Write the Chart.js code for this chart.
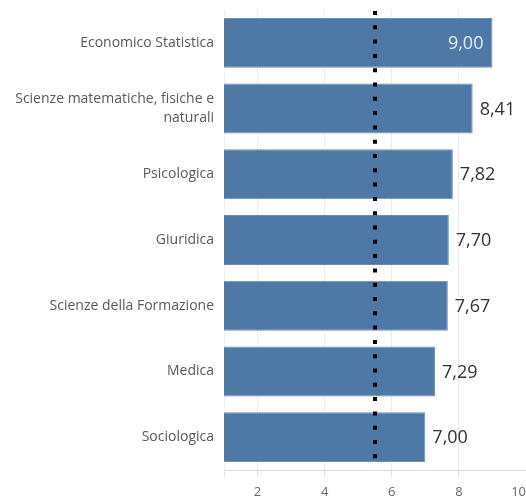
<!DOCTYPE html>
<html>
<head>
<meta charset="utf-8">
<script src="https://cdn.jsdelivr.net/npm/chart.js@4.4.1/dist/chart.umd.min.js"></script>
<style>
  html, body { margin: 0; padding: 0; background: #fff; }
  #wrap { width: 526px; height: 499px; }
</style>
</head>
<body>
<div id="wrap"><canvas id="chart"></canvas></div>
<script>
const categories = [
  "Economico Statistica",
  ["Scienze matematiche, fisiche e", "naturali"],
  "Psicologica",
  "Giuridica",
  "Scienze della Formazione",
  "Medica",
  "Sociologica"
];
const scores = [9.00, 8.41, 7.82, 7.70, 7.67, 7.29, 7.00];
const referenceValue = 5.5;
const xTicks = [1, 2, 4, 6, 8, 10];
const xTickLabels = ["", "2", "4", "6", "8", "10"];

const BAR_COLOR = "#4e79a7";
const FONT = "'Open Sans', sans-serif";

function formatValue(v) {
  return v.toFixed(2).replace(".", ",");
}

// value labels: outside the bar, or inside in white when they would not fit
const valueLabels = {
  id: "valueLabels",
  afterDatasetsDraw(chart) {
    const { ctx, chartArea } = chart;
    const meta = chart.getDatasetMeta(0);
    ctx.save();
    ctx.font = "18px " + FONT;
    ctx.textBaseline = "middle";
    meta.data.forEach((bar, i) => {
      const text = formatValue(scores[i]);
      const w = ctx.measureText(text).width;
      if (bar.x + 8 + w > chartArea.right) {
        ctx.fillStyle = "rgba(255,255,255,0.85)";
        ctx.textAlign = "right";
        ctx.fillText(text, bar.x - 9, bar.y + 1);
      } else {
        ctx.fillStyle = "#333";
        ctx.textAlign = "left";
        ctx.fillText(text, bar.x + 7, bar.y + 1);
      }
    });
    ctx.restore();
  }
};

// dotted reference line
const referenceLine = {
  id: "referenceLine",
  afterDatasetsDraw(chart) {
    const { ctx, chartArea, scales } = chart;
    const x = Math.round(scales.x.getPixelForValue(referenceValue));
    ctx.save();
    ctx.strokeStyle = "#000";
    ctx.lineWidth = 4;
    ctx.setLineDash([4, 10.3]);
    ctx.beginPath();
    ctx.moveTo(x, chartArea.top + 1);
    ctx.lineTo(x, chartArea.bottom - 3);
    ctx.stroke();
    ctx.restore();
  }
};

new Chart(document.getElementById("chart"), {
  type: "bar",
  data: {
    labels: categories,
    datasets: [{
      data: scores,
      backgroundColor: BAR_COLOR,
      borderColor: "#6a8fb8",
      borderWidth: 1,
      barPercentage: 0.76,
      categoryPercentage: 1
    }]
  },
  options: {
    indexAxis: "y",
    responsive: true,
    maintainAspectRatio: false,
    animation: false,
    layout: { padding: { top: 10, right: 0, bottom: 0, left: 0 } },
    plugins: {
      legend: { display: false },
      tooltip: { enabled: false }
    },
    scales: {
      x: {
        min: 1,
        max: 10,
        afterBuildTicks: (scale) => {
          scale.ticks = xTicks.map((v) => ({ value: v }));
        },
        afterFit: (scale) => {
          scale.height = 29;
          scale.paddingLeft = 0;
          scale.paddingRight = 0;
        },
        grid: {
          color: "#ececec",
          tickLength: 7,
          tickColor: "#e2e2e2"
        },
        border: { display: true, color: "#d9d9d9" },
        ticks: {
          align: "inner",
          autoSkip: false,
          maxRotation: 0,
          padding: 7,
          color: "#666",
          font: { family: FONT, size: 13 },
          callback: (value, index) => xTickLabels[index]
        }
      },
      y: {
        afterFit: (scale) => {
          scale.width = 224;
          scale.paddingTop = 0;
          scale.paddingBottom = 0;
        },
        grid: { display: false, drawTicks: false },
        border: { display: true, color: "#f0f0f0" },
        ticks: {
          padding: 10,
          color: "#595959",
          font: { family: FONT, size: 14, lineHeight: 1.3 }
        }
      }
    }
  },
  plugins: [valueLabels, referenceLine]
});
</script>
</body>
</html>
